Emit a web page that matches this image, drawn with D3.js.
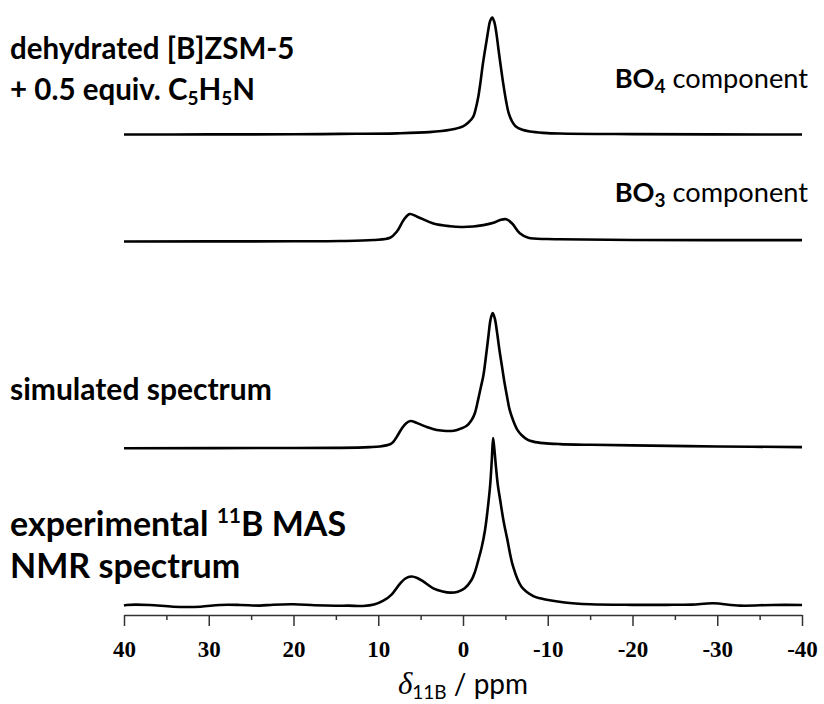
<!DOCTYPE html>
<html>
<head>
<meta charset="utf-8">
<script src="https://cdn.jsdelivr.net/npm/d3@7"></script>
<style>
  body { margin: 0; background: #fff; }
  svg { display: block; }
</style>
</head>
<body>
<svg width="824" height="704"></svg>
<script>
// chemical shift (ppm) and intensity (arb. units, BO4 peak = 100)
const bo4Ppm = [40, 30, 20, 14.5, 7.8, 4, 1.5, 0, -0.6, -1.2, -1.5, -1.8, -2.05, -2.3, -2.55, -2.8, -3.0, -3.2, -3.45, -3.7, -3.95, -4.2, -4.5, -4.8, -5.1, -5.4, -5.8, -6.2, -7, -7.9, -9.5, -11.4, -20, -40];
const bo4Int = [0, 0.1, 0.2, 0.5, 1, 2, 4, 7, 10, 15, 22, 32, 44, 58, 70, 81, 90, 97, 100, 96, 86, 72, 56, 41, 28, 18, 11, 7, 4, 2.5, 1.4, 0.8, 0.3, 0];

const bo3Ppm = [40, 20, 14.5, 10.6, 8.6, 7.8, 7.0, 6.3, 5.4, 3.5, 1.5, 0.2, -1.2, -2.4, -3.6, -4.4, -5.1, -5.8, -6.7, -7.7, -9.9, -11.4, -20, -40];
const bo3Int = [0, 0.2, 0.4, 1.3, 3.2, 8.5, 18.4, 23.5, 21.2, 15.4, 13, 12.4, 12.8, 14, 16, 18.4, 19, 15.4, 7, 3.2, 2.1, 1.9, 1.3, 1.2];

const simPpm = [40, 20, 14.5, 11, 9.8, 8.6, 8.2, 7.8, 7.2, 6.7, 6.2, 5.4, 4.2, 3.1, 2, 1.1, 0.3, -0.4, -1.0, -1.4, -1.8, -2.1, -2.4, -2.7, -3.0, -3.25, -3.5, -3.75, -4.0, -4.3, -4.6, -4.9, -5.2, -5.5, -5.9, -6.4, -6.9, -7.6, -8.3, -9.5, -11.4, -15, -20, -30, -40];
const simInt = [0, 0.3, 0.4, 1, 1.6, 3.5, 5.7, 10, 17.1, 21.5, 23.3, 21.5, 18, 15.6, 14.8, 15, 16.8, 19, 24, 30, 42, 52, 62, 78, 96, 110, 115.6, 111, 100, 84, 70, 56, 44, 33, 24.2, 16, 11.4, 7.5, 5.7, 4.4, 3.6, 3, 2.5, 1.6, 1];

const expPpm = [40, 39.7, 37, 34.2, 31, 28.7, 26.3, 24, 22.4, 20, 17.5, 15, 13.5, 11.8, 10.5, 9.4, 8.4, 7.4, 6.8, 6.1, 5.4, 4.7, 3.5, 2.4, 1.5, 0.6, -0.2, -1.0, -1.4, -1.8, -2.2, -2.6, -2.9, -3.2, -3.4, -3.55, -3.7, -3.9, -4.1, -4.4, -4.8, -5.2, -5.9, -6.9, -8.3, -9.1, -12, -15, -20, -24, -27, -29.5, -32.7, -36.5, -40];
const expInt = [0.5, 0.9, 0.9, -0.6, -0.6, 0.9, 0.9, 0.3, 1.1, 1.5, 0.6, 0.2, 0.3, 0, 1.2, 4.5, 10, 19.4, 23.5, 25.2, 24, 21, 15.1, 12.4, 11.4, 12.2, 15.1, 22.2, 29, 39, 50, 65, 82, 103, 125, 143.6, 134, 118, 104, 90, 72, 58, 34, 16.5, 8.5, 6.6, 3, 1.5, 1, 1, 1.2, 2.3, 0.3, 0.9, 0.9];

const xTicks = [40, 30, 20, 10, 0, -10, -20, -30, -40];
const xMinor = [35, 25, 15, 5, -5, -15, -25, -35];

const svg = d3.select("svg");

const x = d3.scaleLinear().domain([40, -40]).range([124, 802]);
const unit = 1.17; // px per intensity unit

// stacked traces: baseline pixel row for each
const traces = [
  { ppm: bo4Ppm, val: bo4Int, base: 134.5 },
  { ppm: bo3Ppm, val: bo3Int, base: 241.5 },
  { ppm: simPpm, val: simInt, base: 448.3 },
  { ppm: expPpm, val: expInt, base: 606 }
];

traces.forEach(t => {
  const y = d3.scaleLinear().domain([0, 100]).range([t.base, t.base - 100 * unit]);
  const line = d3.line()
    .x((d, i) => x(t.ppm[i]))
    .y(d => y(d))
    .curve(d3.curveCatmullRom.alpha(0.5));
  svg.append("path")
    .attr("d", line(t.val))
    .attr("fill", "none")
    .attr("stroke", "#000")
    .attr("stroke-width", 2.6)
    .attr("stroke-linejoin", "round");
});

// axis
const axisY = 615;
const gAxis = svg.append("g")
  .attr("transform", `translate(0,${axisY})`)
  .call(d3.axisBottom(x).tickValues(xTicks).tickSize(11).tickSizeOuter(0).tickFormat(d => String(d)));
gAxis.select(".domain").attr("stroke", "#333").attr("stroke-width", 1.5);
gAxis.selectAll(".tick line").attr("stroke", "#333").attr("stroke-width", 1.5);
gAxis.selectAll(".tick text")
  .attr("y", 42).attr("dy", 0)
  .attr("font-family", "Liberation Serif, serif")
  .attr("font-weight", "bold")
  .attr("font-size", 23)
  .attr("fill", "#000");

svg.append("g")
  .attr("transform", `translate(0,${axisY})`)
  .call(d3.axisBottom(x).tickValues(xMinor).tickSize(5).tickFormat(""))
  .call(g => g.select(".domain").remove())
  .selectAll(".tick line").attr("stroke", "#333").attr("stroke-width", 1.5);

// axis title
const title = svg.append("text")
  .attr("x", 463).attr("y", 694)
  .attr("text-anchor", "middle")
  .attr("font-family", "Lato, sans-serif")
  .attr("font-size", 28)
  .attr("fill", "#000");
title.append("tspan").attr("font-family", "Liberation Serif, serif").attr("font-style", "italic").attr("font-size", 31).text("δ");
title.append("tspan").attr("font-size", 19).attr("dy", 5).text("11B");
title.append("tspan").attr("dy", -5).text(" / ppm");

// annotations
const font = "Lato, sans-serif";
function label(xp, yp, size, anchor) {
  return svg.append("text")
    .attr("x", xp).attr("y", yp)
    .attr("font-family", font)
    .attr("font-size", size)
    .attr("text-anchor", anchor || "start")
    .attr("fill", "#000");
}

label(10, 59, 29.5).attr("font-weight", "bold").text("dehydrated [B]ZSM-5");
const l2 = label(10, 100, 29.5).attr("font-weight", "bold");
l2.append("tspan").text("+ 0.5 equiv. C");
l2.append("tspan").attr("font-size", 19).attr("dy", 5).text("5");
l2.append("tspan").attr("dy", -5).text("H");
l2.append("tspan").attr("font-size", 19).attr("dy", 5).text("5");
l2.append("tspan").attr("dy", -5).text("N");

function component(yp, sub) {
  const t = label(808, yp, 27.2, "end");
  t.append("tspan").attr("font-weight", "bold").text("BO");
  t.append("tspan").attr("font-weight", "bold").attr("font-size", 19).attr("dy", 5).text(sub);
  t.append("tspan").attr("dy", -5).text(" component");
}
component(88, "4");
component(202, "3");

label(10, 400, 30).attr("font-weight", "bold").text("simulated spectrum");

const e1 = label(10, 536, 34).attr("font-weight", "bold");
e1.append("tspan").text("experimental ");
e1.append("tspan").attr("font-size", 21).attr("dy", -13).text("11");
e1.append("tspan").attr("dy", 13).text("B MAS");
label(10, 578, 34).attr("font-weight", "bold").text("NMR spectrum");
</script>
</body>
</html>
